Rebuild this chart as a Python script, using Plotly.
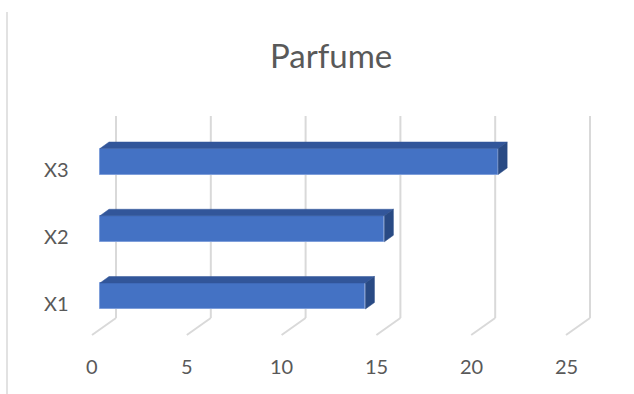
import plotly.graph_objects as go

# ---- data ----
categories = ["X1", "X2", "X3"]
values = [14, 15, 21]
tick_values = [0, 5, 10, 15, 20, 25]
title_text = "Parfume"

# ---- geometry (pixels -> data units) ----
W, H = 634, 394
SX = 18.96          # px per value unit
SY = 67.25          # px per category step
X0_PX = 100         # pixel of value 0 on bar front face
Y0_PX = 296         # pixel of first category centre (front face)

def xd(px):
    return (px - X0_PX) / SX

def yd(py):
    return (Y0_PX - py) / SY

BAR_W = 26 / SY
DEPTH_X = 9 / SX
DEPTH_Y = 6.5 / SY
BACK_DX = 16 / SX
FRONT_DX = -8 / SX
BACK_FLOOR = yd(318)
FRONT_FLOOR = yd(335)
GRID_TOP = yd(116)

FRONT = "#4472C4"
TOP = "#32569A"
SIDE = "#294A84"
GRID = "#D9D9D9"
TEXT = "#595959"
FONT = "Lato"

ys = list(range(len(categories)))

fig = go.Figure()

# top and side faces
for y, v in zip(ys, values):
    t = y + BAR_W / 2
    fig.add_trace(go.Scatter(
        x=[0, v, v + DEPTH_X, DEPTH_X, 0],
        y=[t, t, t + DEPTH_Y, t + DEPTH_Y, t],
        mode="lines", fill="toself", fillcolor=TOP,
        line=dict(width=0.5, color=TOP), hoverinfo="skip", showlegend=False))
    b = y - BAR_W / 2
    fig.add_trace(go.Scatter(
        x=[v, v + DEPTH_X, v + DEPTH_X, v, v],
        y=[b, b + DEPTH_Y, t + DEPTH_Y, t, b],
        mode="lines", fill="toself", fillcolor=SIDE,
        line=dict(width=0.5, color=SIDE), hoverinfo="skip", showlegend=False))

# front faces
fig.add_trace(go.Bar(
    x=values, y=ys, orientation="h", width=BAR_W, base=0,
    marker=dict(color=FRONT, line=dict(color="#7E9EDA", width=1)),
    showlegend=False, hovertext=categories))

shapes = []
# back-wall gridlines and floor diagonals
for v in tick_values:
    bx = v + BACK_DX
    shapes.append(dict(type="line", xref="x", yref="y", layer="below",
                       x0=bx, x1=bx, y0=BACK_FLOOR, y1=GRID_TOP,
                       line=dict(color=GRID, width=2)))
    shapes.append(dict(type="line", xref="x", yref="y", layer="below",
                       x0=bx, x1=v + FRONT_DX, y0=BACK_FLOOR, y1=FRONT_FLOOR,
                       line=dict(color=GRID, width=2)))
# chart border (left edge)
shapes.append(dict(type="line", xref="paper", yref="paper",
                   x0=7 / W, x1=7 / W, y0=0, y1=1 - 12 / H,
                   line=dict(color=GRID, width=1.5)))

annotations = []
for v in tick_values:
    annotations.append(dict(x=v + FRONT_DX, y=yd(366), xref="x", yref="y",
                            text=str(v), showarrow=False,
                            xanchor="center", yanchor="middle",
                            font=dict(family=FONT, size=20, color=TEXT)))
for y, c in zip(ys, categories):
    annotations.append(dict(x=xd(71), y=y - 0.105, xref="x", yref="y",
                            text=c, showarrow=False,
                            xanchor="right", yanchor="middle",
                            font=dict(family=FONT, size=20, color=TEXT)))
annotations.append(dict(x=331 / W, y=1 - 55 / H, xref="paper", yref="paper",
                        text=title_text, showarrow=False,
                        xanchor="center", yanchor="middle",
                        font=dict(family=FONT, size=33, color=TEXT)))

fig.update_layout(
    width=W, height=H, autosize=False,
    margin=dict(l=0, r=0, t=0, b=0, pad=0),
    paper_bgcolor="white", plot_bgcolor="white",
    xaxis=dict(range=[xd(0), xd(W)], visible=False, fixedrange=True),
    yaxis=dict(range=[yd(H), yd(0)], visible=False, fixedrange=True),
    shapes=shapes, annotations=annotations,
    bargap=0,
)

fig.write_html("out.html")
